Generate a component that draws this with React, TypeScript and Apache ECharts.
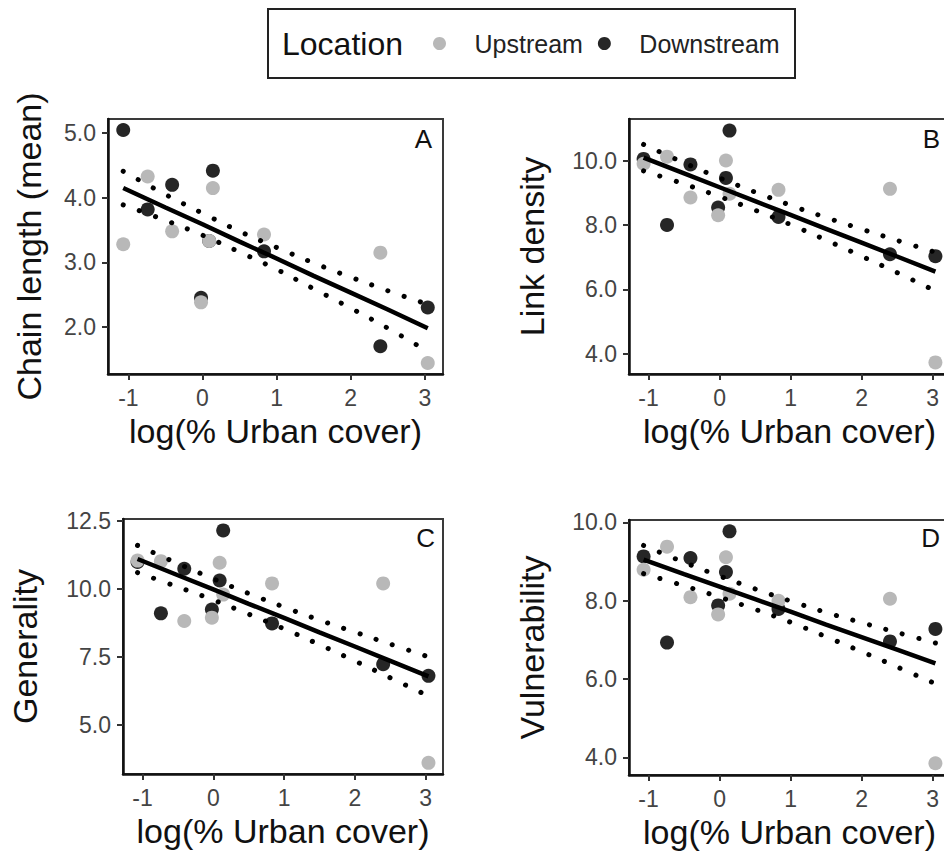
import React, { useEffect, useRef } from "react";
import * as echarts from "echarts";

// ---- data ----
const siteX = [-1.07, -0.74, -0.41, -0.02, 0.09, 0.14, 0.83, 2.4, 3.04];
const xTicks = [-1, 0, 1, 2, 3];
const fitX = [-1.07, -0.5, 0, 0.5, 1, 1.5, 2, 2.5, 3.04];

const chainUp = [3.28, 4.33, 3.48, 2.38, 3.33, 4.15, 3.43, 3.15, 1.44];
const chainDown = [5.05, 3.82, 4.2, 2.45, 3.33, 4.42, 3.17, 1.7, 2.3];
const chainFit = [4.15, 3.85, 3.59, 3.32, 3.06, 2.79, 2.53, 2.27, 1.98];
const chainHi = [4.41, 4.05, 3.76, 3.48, 3.23, 2.99, 2.77, 2.56, 2.35];
const chainLo = [3.89, 3.65, 3.42, 3.16, 2.89, 2.59, 2.29, 1.98, 1.62];
const chainTicks = [2, 3, 4, 5];

const linkUp = [9.9, 10.12, 8.85, 8.3, 10.0, 8.97, 9.09, 9.12, 3.73];
const linkDown = [10.05, 8.0, 9.88, 8.54, 9.46, 10.93, 8.25, 7.09, 7.03];
const linkFit = [10.09, 9.6, 9.17, 8.74, 8.31, 7.88, 7.45, 7.02, 6.55];
const linkHi = [10.5, 9.93, 9.46, 9.02, 8.61, 8.23, 7.87, 7.52, 7.15];
const linkLo = [9.68, 9.27, 8.88, 8.46, 8.01, 7.53, 7.03, 6.52, 5.95];
const linkTicks = [4, 6, 8, 10];

const genUp = [11.05, 11.03, 8.83, 8.95, 10.97, 9.8, 10.21, 10.21, 3.61];
const genDown = [11.0, 9.11, 10.75, 9.25, 10.32, 12.16, 8.74, 7.24, 6.81];
const genFit = [11.11, 10.51, 9.99, 9.46, 8.94, 8.41, 7.89, 7.36, 6.79];
const genHi = [11.61, 10.94, 10.38, 9.84, 9.34, 8.86, 8.42, 7.98, 7.51];
const genLo = [10.61, 10.08, 9.6, 9.08, 8.54, 7.96, 7.36, 6.74, 6.07];
const genTicks = [5, 7.5, 10, 12.5];

const vulnUp = [8.79, 9.38, 8.09, 7.65, 9.11, 8.18, 8.0, 8.05, 3.85];
const vulnDown = [9.13, 6.93, 9.09, 7.88, 8.73, 9.77, 7.79, 6.96, 7.28];
const vulnFit = [9.05, 8.68, 8.36, 8.04, 7.72, 7.39, 7.07, 6.75, 6.4];
const vulnHi = [9.41, 8.98, 8.63, 8.3, 7.99, 7.7, 7.44, 7.19, 6.92];
const vulnLo = [8.69, 8.38, 8.09, 7.78, 7.45, 7.08, 6.7, 6.31, 5.88];
const vulnTicks = [4, 6, 8, 10];

const xTitle = "log(% Urban cover)";
const legendNames = ["Upstream", "Downstream"];

// ---- styling / layout ----
const FONT = "'Liberation Sans', Arial, Helvetica, sans-serif";
const LIGHT = "#b8b8b8";
const DARK = "#262626";

const panels = [
  { letter: "A", yName: "Chain length (mean)", up: chainUp, down: chainDown, fit: chainFit, hi: chainHi, lo: chainLo, ticks: chainTicks, yMin: 1.27, yMax: 5.22, grid: { left: 108, top: 119, width: 335, height: 255 }, nameGap: 62, lx: 432, ly: 126 },
  { letter: "B", yName: "Link density", up: linkUp, down: linkDown, fit: linkFit, hi: linkHi, lo: linkLo, ticks: linkTicks, yMin: 3.37, yMax: 11.29, grid: { left: 629, top: 119, width: 321, height: 255 }, nameGap: 80, lx: 940, ly: 126 },
  { letter: "C", yName: "Generality", up: genUp, down: genDown, fit: genFit, hi: genHi, lo: genLo, ticks: genTicks, yMin: 3.2, yMax: 12.58, grid: { left: 123, top: 519, width: 320, height: 255 }, nameGap: 81, lx: 435, ly: 525 },
  { letter: "D", yName: "Vulnerability", up: vulnUp, down: vulnDown, fit: vulnFit, hi: vulnHi, lo: vulnLo, ticks: vulnTicks, yMin: 3.55, yMax: 10.06, grid: { left: 629, top: 520, width: 321, height: 255 }, nameGap: 80, lx: 940, ly: 525 },
];

export default function App() {
  const ref = useRef<HTMLDivElement>(null);

  useEffect(() => {
    if (!ref.current) return;
    const chart = echarts.init(ref.current, undefined, { renderer: "svg" });

    const grids = panels.map((p) => ({
      ...p.grid,
      show: true,
      borderColor: "#3a3a3a",
      borderWidth: 2,
      backgroundColor: "transparent",
    }));

    const xAxes = panels.map((p, i) => ({
      type: "value",
      gridIndex: i,
      min: -1.2755,
      max: 3.2455,
      name: xTitle,
      nameLocation: "middle",
      nameGap: 40,
      nameTextStyle: { fontSize: 34, color: "#111", fontFamily: FONT },
      axisLine: { show: true, onZero: false, lineStyle: { color: "#111", width: 2.5 } },
      axisTick: { show: true, length: 6, lineStyle: { color: "#333", width: 2 }, customValues: xTicks },
      axisLabel: { fontSize: 23, color: "#444", margin: 12, fontFamily: FONT, customValues: xTicks, formatter: (v: number) => String(v) },
      splitLine: { show: false },
    }));

    const yAxes = panels.map((p, i) => ({
      type: "value",
      gridIndex: i,
      min: p.yMin,
      max: p.yMax,
      name: p.yName,
      nameLocation: "middle",
      nameGap: p.nameGap,
      nameTextStyle: { fontSize: 34, color: "#111", fontFamily: FONT },
      axisLine: { show: true, onZero: false, lineStyle: { color: "#111", width: 2.5 } },
      axisTick: { show: true, length: 6, lineStyle: { color: "#333", width: 2 }, customValues: p.ticks },
      axisLabel: { fontSize: 23, color: "#444", margin: 12, fontFamily: FONT, customValues: p.ticks, formatter: (v: number) => v.toFixed(1) },
      splitLine: { show: false },
    }));

    const series: any[] = [];
    panels.forEach((p, i) => {
      series.push({
        type: "scatter", name: legendNames[1], xAxisIndex: i, yAxisIndex: i,
        data: siteX.map((x, k) => [x, p.down[k]]), symbol: "circle", symbolSize: 14,
        itemStyle: { color: DARK, opacity: 1 }, z: 2,
      });
      series.push({
        type: "scatter", name: legendNames[0], xAxisIndex: i, yAxisIndex: i,
        data: siteX.map((x, k) => [x, p.up[k]]), symbol: "circle", symbolSize: 14,
        itemStyle: { color: LIGHT, opacity: 1 }, z: 3,
      });
      series.push({
        type: "line", name: "fit" + i, xAxisIndex: i, yAxisIndex: i,
        data: fitX.map((x, k) => [x, p.fit[k]]), symbol: "none", showSymbol: false,
        lineStyle: { color: "#000", width: 4.5 }, z: 5, silent: true,
      });
      [p.hi, p.lo].forEach((arr, j) => {
        series.push({
          type: "line", name: "ci" + i + "_" + j, xAxisIndex: i, yAxisIndex: i,
          data: fitX.map((x, k) => [x, arr[k]]), symbol: "none", showSymbol: false, smooth: 0.4,
          lineStyle: { color: "#000", width: 5, type: [0.1, 17], cap: "round" }, z: 4, silent: true,
        });
      });
    });

    const graphic: any[] = [
      { type: "rect", shape: { x: 268, y: 9, width: 527, height: 69 }, style: { fill: "none", stroke: "#222", lineWidth: 2 } },
      { type: "text", x: 282, y: 44, style: { text: "Location", fontSize: 32, fontFamily: FONT, fill: "#111", align: "left", verticalAlign: "middle" } },
      ...panels.map((p) => ({
        type: "text", x: p.lx, y: p.ly,
        style: { text: p.letter, fontSize: 26, fontFamily: FONT, fill: "#111", align: "right", verticalAlign: "top" },
      })),
    ];

    chart.setOption({
      animation: false,
      backgroundColor: "#fff",
      textStyle: { fontFamily: FONT },
      grid: grids,
      xAxis: xAxes,
      yAxis: yAxes,
      series,
      legend: {
        data: legendNames,
        left: 428,
        top: 26,
        orient: "horizontal",
        icon: "circle",
        itemWidth: 60,
        itemHeight: 13,
        itemGap: 15,
        textStyle: { fontSize: 25, color: "#222", fontFamily: FONT },
        selectedMode: false,
      },
      graphic,
    });

    return () => chart.dispose();
  }, []);

  return (
    <div style={{ position: "fixed", left: 0, top: 0, width: 944, height: 851, overflow: "hidden", background: "#fff" }}>
      <div ref={ref} style={{ width: 960, height: 851 }} />
    </div>
  );
}
